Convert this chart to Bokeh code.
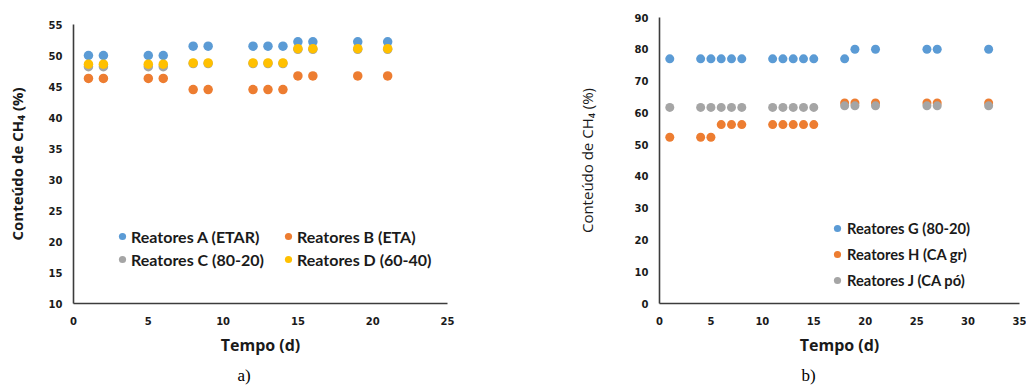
from bokeh.plotting import figure
from bokeh.models import Range1d, FixedTicker, Legend, LegendItem, Title, Spacer
from bokeh.layouts import row, column
from bokeh.embed import file_html
from bokeh.resources import INLINE

# ---------------- data: chart a) ----------------
tempo_a = [1, 2, 5, 6, 8, 9, 12, 13, 14, 15, 16, 19, 21]
reatores_A = [50.0, 50.0, 50.0, 50.0, 51.5, 51.5, 51.5, 51.5, 51.5, 52.2, 52.2, 52.2, 52.2]
reatores_B = [46.3, 46.3, 46.3, 46.3, 44.5, 44.5, 44.5, 44.5, 44.5, 46.7, 46.7, 46.7, 46.7]
reatores_C = [48.2, 48.2, 48.2, 48.2, 48.7, 48.7, 48.7, 48.7, 48.7, 51.0, 51.0, 51.0, 51.0]
reatores_D = [48.6, 48.6, 48.6, 48.6, 48.8, 48.8, 48.8, 48.8, 48.8, 51.1, 51.1, 51.1, 51.1]
labels_a = ["Reatores A (ETAR)", "Reatores B (ETA)", "Reatores C (80-20)", "Reatores D (60-40)"]
xticks_a = [0, 5, 10, 15, 20, 25]
yticks_a = [10, 15, 20, 25, 30, 35, 40, 45, 50, 55]

# ---------------- data: chart b) ----------------
tempo_b = [1, 4, 5, 6, 7, 8, 11, 12, 13, 14, 15, 18, 19, 21, 26, 27, 32]
reatores_G = [77, 77, 77, 77, 77, 77, 77, 77, 77, 77, 77, 77, 80, 80, 80, 80, 80]
reatores_H = [52.3, 52.3, 52.3, 56.3, 56.3, 56.3, 56.3, 56.3, 56.3, 56.3, 56.3,
              63.1, 63.1, 63.1, 63.1, 63.1, 63.1]
reatores_J = [61.7, 61.7, 61.7, 61.7, 61.7, 61.7, 61.7, 61.7, 61.7, 61.7, 61.7,
              62.2, 62.2, 62.2, 62.2, 62.2, 62.2]
labels_b = ["Reatores G (80-20)", "Reatores H (CA gr)", "Reatores J (CA pó)"]
xticks_b = [0, 5, 10, 15, 20, 25, 30, 35]
yticks_b = [0, 10, 20, 30, 40, 50, 60, 70, 80, 90]

BLUE, ORANGE, GRAY, YELLOW = "#5B9BD5", "#ED7D31", "#A5A5A5", "#FFC000"
TXT = "#1a1a1a"
AXC = "#3c3c3c"


def style_axes(p, ylab, ylab_style, ylab_standoff):
    for ax in (p.xaxis[0], p.yaxis[0]):
        ax.axis_line_color = AXC
        ax.axis_line_width = 1.6
        ax.major_tick_line_color = None
        ax.minor_tick_line_color = None
        ax.major_tick_out = 0
        ax.major_tick_in = 0
        ax.major_label_text_font = "DejaVu Sans"
        ax.major_label_text_font_style = "bold"
        ax.major_label_text_font_size = "10px"
        ax.major_label_text_color = TXT
        ax.axis_label_text_font = "Open Sans"
        ax.axis_label_text_color = TXT
    p.xaxis.major_label_standoff = 13
    p.yaxis.major_label_standoff = 11
    p.xaxis.axis_label = "Tempo (d)"
    p.xaxis.axis_label_text_font_style = "bold"
    p.xaxis.axis_label_text_font_size = "16px"
    p.xaxis.axis_label_standoff = 6
    p.yaxis.axis_label = ylab
    p.yaxis.axis_label_text_font_style = ylab_style
    p.yaxis.axis_label_text_font_size = "15px"
    p.yaxis.axis_label_standoff = ylab_standoff
    p.xgrid.grid_line_color = None
    p.ygrid.grid_line_color = None
    p.outline_line_color = None


# ---------------- figure a) ----------------
pa = figure(width=470, height=383, output_backend="svg", toolbar_location=None,
            x_range=Range1d(0, 25), y_range=Range1d(10, 55),
            min_border_left=73, min_border_right=23, min_border_top=17, min_border_bottom=87)
style_axes(pa, "Conteúdo de CH₄ (%)", "bold", 19)
pa.xaxis.ticker = FixedTicker(ticks=xticks_a)
pa.yaxis.ticker = FixedTicker(ticks=yticks_a)

ra = []
for ys, col in zip([reatores_A, reatores_B, reatores_C, reatores_D], [BLUE, ORANGE, GRAY, YELLOW]):
    ra.append(pa.scatter(tempo_a, ys, size=9.5, fill_color=col, line_color=None))

leg_a = Legend(items=[LegendItem(label=l, renderers=[r]) for l, r in zip(labels_a, ra)],
               location=(40, 34), orientation="horizontal", nrows=2,
               padding=0, margin=0, spacing=3, glyph_width=18, glyph_height=18,
               label_standoff=0, label_width=145, label_height=20,
               label_text_font="Lato", label_text_font_style="bold",
               label_text_font_size="16px", label_text_color=TXT,
               border_line_color=None, background_fill_alpha=0)
pa.add_layout(leg_a)
pa.add_layout(Title(text="a)", align="left", offset=164, text_font="Liberation Serif",
                    text_font_style="normal", text_font_size="17px", text_color="#000000",
                    standoff=11), "below")

# ---------------- figure b) ----------------
pb = figure(width=556, height=390, output_backend="svg", toolbar_location=None,
            x_range=Range1d(0, 35), y_range=Range1d(0, 90),
            min_border_left=189, min_border_right=7, min_border_top=17, min_border_bottom=87)
style_axes(pb, "Conteúdo de CH₄ (%)", "normal", 35)
pb.xaxis.ticker = FixedTicker(ticks=xticks_b)
pb.yaxis.ticker = FixedTicker(ticks=yticks_b)

rb = []
for ys, col in zip([reatores_G, reatores_H, reatores_J], [BLUE, ORANGE, GRAY]):
    rb.append(pb.scatter(tempo_b, ys, size=9, fill_color=col, line_color=None))

leg_b = Legend(items=[LegendItem(label=l, renderers=[r]) for l, r in zip(labels_b, rb)],
               location=(169, 13), orientation="vertical",
               padding=0, margin=0, spacing=6, glyph_width=18, glyph_height=18,
               label_standoff=1, label_height=20,
               label_text_font="Lato", label_text_font_style="bold",
               label_text_font_size="14.7px", label_text_color=TXT,
               border_line_color=None, background_fill_alpha=0)
pb.add_layout(leg_b)
pb.add_layout(Title(text="b)", align="left", offset=142, text_font="Liberation Serif",
                    text_font_style="normal", text_font_size="17px", text_color="#000000",
                    standoff=11), "below")

layout = row(column(Spacer(width=470, height=7), pa), pb)
open("out.html", "w").write(file_html(layout, INLINE))
